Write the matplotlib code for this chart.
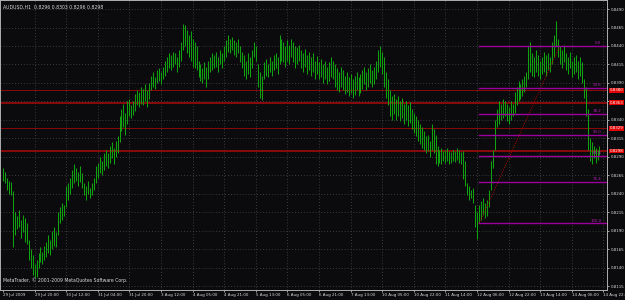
import numpy as np
import matplotlib
matplotlib.use("Agg")
import matplotlib.pyplot as plt

# hourly bars, prices in pips (x 1e-4)
highs = [
    8275, 8270, 8262, 8258, 8256, 8244, 8215, 8210, 8218, 8205,
    8212, 8208, 8200, 8178, 8165, 8158, 8145, 8150, 8160, 8168,
    8162, 8170, 8175, 8185, 8178, 8190, 8195, 8188, 8215, 8222,
    8228, 8225, 8250, 8255, 8262, 8272, 8280, 8275, 8270, 8278,
    8268, 8255, 8250, 8258, 8248, 8255, 8262, 8278, 8282, 8290,
    8285, 8295, 8300, 8295, 8305, 8310, 8302, 8312, 8318, 8345,
    8355, 8362, 8350, 8365, 8368, 8360, 8365, 8375, 8380, 8378,
    8385, 8382, 8388, 8380, 8390, 8400, 8405, 8398, 8408, 8410,
    8405, 8412, 8420, 8425, 8430, 8428, 8432, 8430, 8425, 8435,
    8445, 8470, 8468, 8462, 8455, 8460, 8450, 8445, 8440, 8420,
    8415, 8410, 8418, 8412, 8420, 8425, 8430, 8428, 8432, 8425,
    8435, 8430, 8440, 8448, 8455, 8450, 8452, 8448, 8445, 8450,
    8440, 8432, 8428, 8420, 8430, 8425, 8435, 8445, 8440, 8415,
    8405, 8400, 8418, 8422, 8415, 8425, 8420, 8428, 8430, 8425,
    8455, 8450, 8445, 8440, 8448, 8442, 8450, 8445, 8440, 8438,
    8442, 8435, 8430, 8436, 8428, 8432, 8425, 8430, 8420, 8426,
    8418, 8422, 8415, 8420, 8412, 8418, 8425, 8420, 8415, 8410,
    8405, 8412, 8408, 8400, 8405, 8398, 8402, 8395, 8400, 8405,
    8398, 8402, 8408, 8412, 8405, 8410, 8415, 8408, 8412, 8420,
    8435, 8440, 8432, 8425, 8405, 8395, 8380, 8372, 8375, 8368,
    8372, 8365, 8370, 8362, 8366, 8360, 8364, 8355, 8350, 8345,
    8340, 8335, 8330, 8325, 8318, 8320, 8312, 8335, 8328, 8320,
    8305, 8300, 8302, 8298, 8300, 8302, 8298, 8296, 8300, 8298,
    8302, 8300, 8296, 8298, 8285, 8255, 8250, 8245, 8248, 8225,
    8215, 8225, 8230, 8235, 8228, 8232, 8245, 8285, 8300, 8340,
    8355, 8365, 8362, 8368, 8366, 8362, 8358, 8365, 8362, 8378,
    8385, 8392, 8388, 8395, 8400, 8405, 8440, 8445, 8430, 8425,
    8435, 8428, 8420, 8425, 8432, 8428, 8430, 8425, 8445, 8455,
    8474, 8450, 8440, 8435, 8442, 8430, 8425, 8432, 8420, 8425,
    8428, 8420, 8425, 8418, 8395, 8385, 8355, 8315, 8310, 8305,
    8302, 8300, 8305,
]
lows = [
    8258, 8255, 8245, 8240, 8238, 8168, 8185, 8192, 8195, 8180,
    8188, 8175, 8172, 8150, 8140, 8130, 8126, 8128, 8140, 8148,
    8145, 8150, 8155, 8160, 8158, 8165, 8170, 8168, 8185, 8200,
    8205, 8210, 8222, 8232, 8240, 8248, 8255, 8258, 8250, 8256,
    8248, 8238, 8232, 8240, 8235, 8238, 8245, 8255, 8262, 8268,
    8265, 8272, 8278, 8275, 8282, 8288, 8280, 8290, 8295, 8310,
    8325, 8330, 8320, 8335, 8345, 8342, 8347, 8352, 8360, 8358,
    8362, 8360, 8365, 8358, 8368, 8380, 8385, 8382, 8390, 8392,
    8388, 8395, 8400, 8405, 8410, 8408, 8412, 8415, 8405, 8412,
    8420, 8435, 8440, 8430, 8425, 8420, 8412, 8410, 8408, 8398,
    8392, 8390, 8395, 8385, 8395, 8405, 8408, 8410, 8412, 8405,
    8415, 8410, 8420, 8425, 8432, 8430, 8435, 8428, 8425, 8430,
    8418, 8410, 8400, 8395, 8402, 8398, 8410, 8425, 8420, 8385,
    8370, 8367, 8395, 8400, 8398, 8405, 8400, 8408, 8410, 8402,
    8415, 8420, 8418, 8412, 8420, 8415, 8425, 8418, 8410, 8415,
    8420, 8410, 8405, 8412, 8402, 8408, 8400, 8405, 8395, 8402,
    8395, 8398, 8390, 8395, 8388, 8392, 8398, 8395, 8385, 8380,
    8378, 8385, 8380, 8375, 8378, 8372, 8376, 8370, 8374, 8380,
    8372, 8376, 8382, 8388, 8380, 8385, 8390, 8385, 8388, 8395,
    8405, 8412, 8402, 8385, 8370, 8360, 8345, 8340, 8348, 8340,
    8345, 8338, 8342, 8335, 8340, 8332, 8336, 8328, 8322, 8318,
    8312, 8308, 8302, 8300, 8295, 8298, 8290, 8300, 8295, 8280,
    8278, 8282, 8280, 8285, 8282, 8284, 8280, 8282, 8285, 8283,
    8286, 8282, 8280, 8260, 8250, 8238, 8232, 8235, 8228, 8195,
    8179, 8200, 8205, 8212, 8208, 8210, 8222, 8245, 8275, 8300,
    8330, 8335, 8340, 8342, 8345, 8338, 8335, 8340, 8345, 8350,
    8360, 8365, 8368, 8372, 8378, 8385, 8395, 8405, 8400, 8398,
    8405, 8400, 8395, 8402, 8405, 8400, 8408, 8405, 8415, 8425,
    8440, 8425, 8415, 8410, 8418, 8408, 8402, 8410, 8398, 8402,
    8405, 8395, 8400, 8390, 8370, 8345, 8300, 8285, 8280, 8288,
    8282, 8286, 8292,
]

time_labels = ["29 Jul 2009", "29 Jul 20:00", "30 Jul 12:00", "31 Jul 04:00",
               "31 Jul 20:00", "3 Aug 12:00", "4 Aug 05:00", "4 Aug 21:00",
               "5 Aug 13:00", "6 Aug 05:00", "6 Aug 21:00", "7 Aug 13:00",
               "10 Aug 05:00", "10 Aug 22:00", "11 Aug 14:00", "12 Aug 06:00",
               "12 Aug 22:00", "13 Aug 14:00", "14 Aug 06:00", "14 Aug 22:00"]
price_ticks = [0.8490, 0.8465, 0.8440, 0.8415, 0.8390, 0.8365, 0.8340, 0.8315,
               0.8290, 0.8265, 0.8240, 0.8215, 0.8190, 0.8165, 0.8140, 0.8115]

red_lines = [0.8380, 0.8363, 0.8329, 0.8298]
red_widths = [0.7, 1.4, 0.7, 1.4]

fib_ratios = [0.0, 23.6, 38.2, 50.0, 61.8, 76.4, 100.0]
fib_low_bar, fib_high_bar = 241, 282

header = "AUDUSD,H1  0.8296 0.8303 0.8296 0.8298"
footer = "MetaTrader, \u00a9 2001-2009 MetaQuotes Software Corp."

BG = "#0b0b0d"
GRID = "#4a4a50"
BAR = "#10a010"
TXT = "#d8d8d8"
FS = 2.9

hi = np.array(highs) / 1e4
lo = np.array(lows) / 1e4
idx = np.arange(len(hi))

fig = plt.figure(figsize=(6.25, 3.0), dpi=100, facecolor=BG)
ax = fig.add_axes([0.0, 10 / 300, 607 / 625, 290 / 300], facecolor=BG)

ax.set_xlim(-1.5, 305.8)
ax.set_ylim(0.81100, 0.85022)

for p in price_ticks:
    ax.axhline(p, color=GRID, lw=0.6, ls=(0, (1, 2.5)), zorder=0)
xt = np.arange(len(time_labels)) * 16
for t in xt[1:]:
    ax.axvline(t, color=GRID, lw=0.6, ls=(0, (1, 2.5)), zorder=0)

for p, w in zip(red_lines, red_widths):
    ax.axhline(p, color="#8a0a0a", lw=w, zorder=1)

ax.vlines(idx, lo, hi, color=BAR, lw=0.75, zorder=2)

# fibonacci retracement
f_hi = hi[fib_high_bar]
f_lo = lo[fib_low_bar]
ax.plot([fib_low_bar, fib_high_bar], [f_lo, f_hi], color="#b00000",
        lw=0.7, ls=(0, (1, 1.5)), zorder=3)
for r in fib_ratios:
    p = f_hi - r / 100 * (f_hi - f_lo)
    ax.plot([fib_low_bar, 305.8], [p, p], color="#9a009a", lw=1.0, zorder=3)
    ax.text(303, p + 0.00012, "%.1f" % r, color="#b020b0", fontsize=FS,
            ha="right", va="bottom", zorder=4)

for s in ax.spines.values():
    s.set_color("#b0b0b0")
    s.set_linewidth(0.7)

ax.yaxis.tick_right()
ax.set_yticks(price_ticks)
ax.set_yticklabels(["%.4f" % p for p in price_ticks])
ax.set_xticks(xt)
ax.set_xticklabels(time_labels, ha="left")
ax.tick_params(axis="both", colors=TXT, labelsize=FS, length=1.5, width=0.5,
               pad=1.0)

for p in red_lines:
    ax.text(1.004, p, "%.4f" % p, transform=ax.get_yaxis_transform(),
            color="white", fontsize=FS, va="center", ha="left",
            bbox=dict(boxstyle="square,pad=0.12", fc="#e00000", ec="none"),
            zorder=5, clip_on=False)

ax.text(0.005, 0.985, header, transform=ax.transAxes, color=TXT,
        fontsize=3.3, va="top", ha="left")
ax.text(0.005, 0.025, footer, transform=ax.transAxes, color=TXT,
        fontsize=3.3, va="bottom", ha="left")

fig.savefig("out.png", dpi=100, facecolor=BG)
